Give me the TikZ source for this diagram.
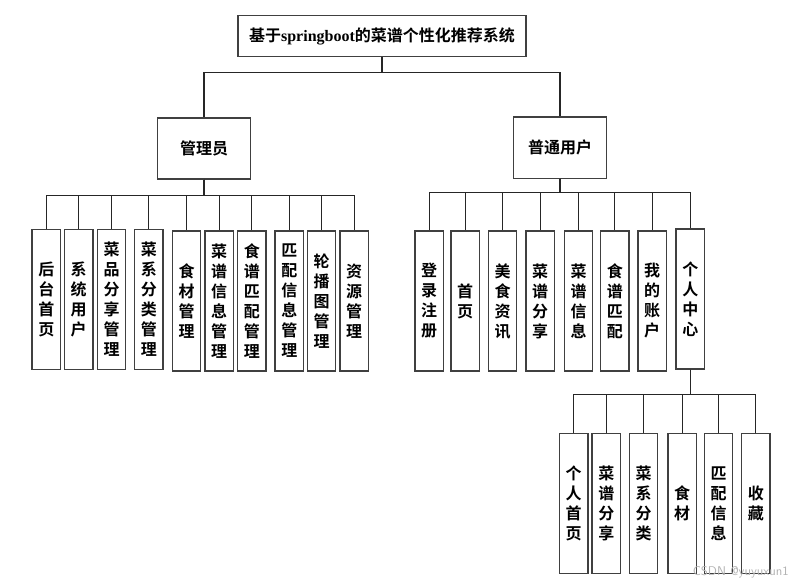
\documentclass[tikz,border=0pt]{standalone}
\usepackage{fontspec}
\setmainfont{Noto Sans CJK SC}[BoldFont={* Bold}]
\newfontfamily\latfont{Liberation Serif}
\begin{document}
\begin{tikzpicture}[x=0.75pt,y=-0.75pt,
  box/.style={draw=black!75,line width=1.1pt,fill=white,inner sep=0pt,align=center,
    font=\fontsize{12}{15}\selectfont\bfseries},
  topbox/.style={box,minimum width=216pt,minimum height=30.4pt},
  midbox/.style={box,minimum width=70pt,minimum height=45.8pt},
  leaf/.style={box,minimum width=21.2pt,minimum height=105pt},
  conn/.style={draw=black!85,line width=0.8pt}]
\useasboundingbox (0,0) rectangle (798,586);
% top
\node[topbox] (t) at (382,36) {基于{\latfont springboot}的菜谱个性化推荐系统};
\node[midbox] (ad) at (204,148.5) {管理员};
\node[midbox] (us) at (560,147.7) {普通用户};
% admin leaves
\node[leaf] (a1) at (46.3,299.3) {后\\台\\首\\页};
\node[leaf] (a2) at (78.7,299.3) {系\\统\\用\\户};
\node[leaf] (a3) at (111.5,299.3) {菜\\品\\分\\享\\管\\理};
\node[leaf] (a4) at (148.8,299.3) {菜\\系\\分\\类\\管\\理};
\node[leaf] (a5) at (186.5,301) {食\\材\\管\\理};
\node[leaf] (a6) at (219.2,301) {菜\\谱\\信\\息\\管\\理};
\node[leaf] (a7) at (251.8,301) {食\\谱\\匹\\配\\管\\理};
\node[leaf] (a8) at (289.3,301) {匹\\配\\信\\息\\管\\理};
\node[leaf] (a9) at (321.5,301) {轮\\播\\图\\管\\理};
\node[leaf] (a10) at (354.2,301) {资\\源\\管\\理};
% user leaves
\node[leaf] (u1) at (429.2,301) {登\\录\\注\\册};
\node[leaf] (u2) at (465.2,301) {首\\页};
\node[leaf] (u3) at (502.5,301) {美\\食\\资\\讯};
\node[leaf] (u4) at (540.2,301) {菜\\谱\\分\\享};
\node[leaf] (u5) at (578.5,301) {菜\\谱\\信\\息};
\node[leaf] (u6) at (614.8,301) {食\\谱\\匹\\配};
\node[leaf] (u7) at (652.2,301) {我\\的\\账\\户};
\node[leaf] (u8) at (690.3,299) {个\\人\\中\\心};
% personal centre leaves
\node[leaf] (p1) at (573.7,503.7) {个\\人\\首\\页};
\node[leaf] (p2) at (606.3,503.7) {菜\\谱\\分\\享};
\node[leaf] (p3) at (643.5,503.7) {菜\\系\\分\\类};
\node[leaf] (p4) at (682.2,503.7) {食\\材};
\node[leaf] (p5) at (718.5,503.7) {匹\\配\\信\\息};
\node[leaf] (p6) at (755.8,503.7) {收\\藏};
% connectors
\foreach \c in {ad,us} \draw[conn] (t.south) -- ++(0,15.5) -| (\c.north);
\foreach \c in {a1,a2,a3,a4,a5,a6,a7,a8,a9,a10} \draw[conn] (ad.south) -- ++(0,15.3) -| (\c.north);
\foreach \c in {u1,u2,u3,u4,u5,u6,u7,u8} \draw[conn] (us.south) -- ++(0,13.3) -| (\c.north);
\foreach \c in {p1,p2,p3,p4,p5,p6} \draw[conn] (u8.south) -- ++(0,25) -| (\c.north);
% watermark
\node[text=black!30,font=\fontsize{9.5}{10}\selectfont\sffamily,anchor=east,inner sep=0pt] (wm) at (789,572.5) {CSDN @yuyuxun1};
\end{tikzpicture}
\end{document}
